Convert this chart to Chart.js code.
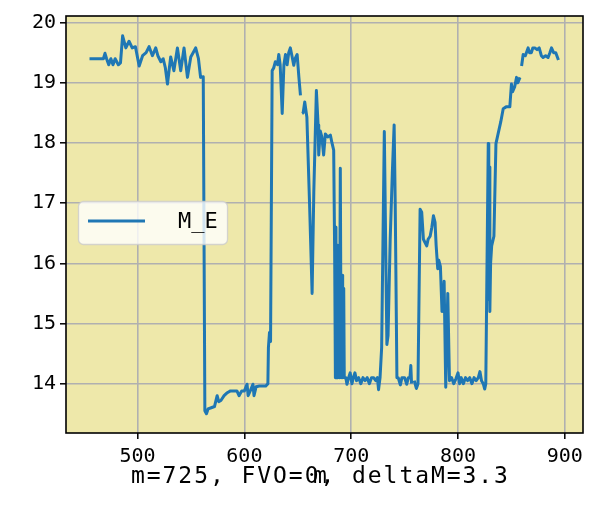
<!DOCTYPE html>
<html>
<head>
<meta charset="utf-8">
<script src="https://cdn.jsdelivr.net/npm/chart.js@4.4.0/dist/chart.umd.min.js"></script>
<style>
  html, body { margin: 0; padding: 0; background: #fff; }
</style>
</head>
<body>
<canvas id="chart" width="594" height="514"></canvas>
<script>
// values (null = gap in the line)
const mVals = [
  455, 468, 469.5, 471, 473, 475, 477, 479, 482, 484,
  486, 489, 492, 495, 498, 501.5, 504.7, 508, 510.8, 513.9,
  517, 519, 521.8, 524, 526, 528, 531, 534, 537.3, 540.4,
  543.5, 546.7, 549.8, 552, 554.4, 557, 559, 561.5,
  563, 564.5, 566, 569, 572, 574.5, 576, 578, 581, 584,
  587, 590, 593, 595, 597.5, 600, 602.5, 603.5, 606, 608,
  609, 611, 614, 617, 620, 622,
  622.5, 623.5, 624.5, 626, 627.5, 629, 631, 632.2, 633.5, 635.4,
  637, 638.5, 640, 641.5, 643, 644.5, 646.2, 647.5, 649.4, 651,
  652.5, 653.2, 654, 655, 656.5, 658.5, 661, 663.4, 665, 667.4,
  669, 669.6, 671, 672.5, 674.2, 675.8, 678, 680.5, 682, 683.6,
  684.5, 685.2, 685.7, 686.2, 687, 687.5, 688, 688.5, 689, 689.8,
  690.6, 691.4, 691.8, 692.2, 693, 693.5, 694, 695, 696, 697.6,
  699, 700.7, 702, 703.5, 705, 707, 709, 711, 713, 715,
  717, 719, 721, 723, 724.5, 725.6, 727, 728.5, 731, 733.4,
  734.5, 736.5, 738.5, 740.2, 741.2, 742.8, 744, 746, 747.5, 750,
  752, 753.5, 755, 755.8, 756.5, 757.5, 759, 761, 762.5, 764.5,
  766, 767.6, 769, 770.7, 772, 773.9, 775.5, 777, 778.5, 779.5,
  781, 782, 783.5, 785, 786, 787, 788.5, 790.4, 792, 794,
  796, 798, 800, 801.5, 803, 805, 807, 809, 811, 813,
  815, 817, 819, 820.5, 822, 823.6, 825, 826, 828.3, 828.8,
  829.2, 829.8, 830.5, 831.5, 833.6, 835.5, 837.6, 840, 842.3, 845,
  848.5, 850, 851, 853, 854.8, 856, 858, 858.8, 859.5, 861,
  863, 865.6, 867, 868.7, 870, 871.9, 874, 876, 878, 879.6,
  882, 884.3, 886, 887.5, 889.5, 891.5, 894
];
const meVals = [
  19.4, 19.4, 19.49, 19.4, 19.3, 19.4, 19.3, 19.4, 19.3, 19.33,
  19.78, 19.58, 19.69, 19.58, 19.6, 19.28, 19.45, 19.5, 19.6, 19.45,
  19.58, 19.45, 19.35, 19.4, 19.25, 18.98, 19.43, 19.2, 19.58, 19.2,
  19.58, 19.09, 19.43, 19.5, 19.58, 19.4, 19.09, 19.1,
  13.55, 13.5, 13.58, 13.6, 13.62, 13.8, 13.7, 13.72, 13.8, 13.85,
  13.88, 13.88, 13.88, 13.8, 13.88, 13.88, 13.99, 13.8, 13.9, 13.99,
  13.8, 13.95, 13.96, 13.96, 13.96, 14.0,
  14.6, 14.85, 14.7, 19.2, 19.25, 19.35, 19.3, 19.47, 19.3, 18.49,
  19.3, 19.47, 19.3, 19.5, 19.58, 19.45, 19.29, 19.4, 19.47, 19.1,
  18.79, null, 18.49, 18.5, 18.68, 18.43, 17.0, 15.5, 17.2, 18.87,
  18.3, 17.8, 18.2, 18.1, 17.8, 18.15, 18.1, 18.13, 18.0, 17.88,
  16.2, 14.1, 16.6, 14.1, 16.3, 14.1, 16.0, 14.2, 14.1, 17.58,
  14.1, 15.8, 14.1, 15.6, 15.58, 14.1, 14.1, 14.1, 13.99, 14.1,
  14.18, 14.0, 14.1, 14.18, 14.05, 14.1, 14.0, 14.1, 14.05, 14.1,
  14.0, 14.1, 14.1, 14.05, 14.1, 13.9, 14.1, 14.6, 18.19, 14.65,
  14.8, 16.4, 17.5, 18.3, 17.0, 14.1, 14.1, 13.98, 14.1, 14.1,
  13.99, 14.1, 14.1, 14.3, 14.0, null, 14.05, 13.92, 14.0, 16.9,
  16.85, 16.4, 16.35, 16.29, 16.4, 16.45, 16.6, 16.79, 16.68, 16.3,
  15.91, 16.05, 15.95, 15.2, 15.3, 15.7, 13.94, 15.5, 14.05, 14.1,
  14.0, 14.08, 14.18, 14.0, 14.1, 14.0, 14.1, 14.05, 14.1, 14.0,
  14.1, 14.05, 14.1, 14.2, 14.05, 14.0, 13.91, 14.0, 17.99, 15.4,
  17.6, 15.2, 16.0, 16.29, 16.45, 17.99, 18.16, 18.35, 18.57, 18.6,
  18.6, 18.98, 18.85, 18.93, 19.09, 19.0, 19.09, null, 19.28, 19.47,
  19.45, 19.58, 19.5, 19.5, 19.58, 19.58, 19.55, 19.58, 19.45, 19.42,
  19.45, 19.42, 19.5, 19.58, 19.5, 19.5, 19.38
];
const xTicks = [500, 600, 700, 800, 900];
const yTicks = [14, 15, 16, 17, 18, 19, 20];
const seriesLabel = "M_E";
const axisLabel = "m";
const bottomText = "m=725, FVO=0, deltaM=3.3";

const LINE_COLOR = "#1f77b4";
const FONT = '"DejaVu Sans Mono"';

const points = mVals.map((m, i) => ({ x: m, y: meVals[i] }));

// khaki plot background + black frame
const framePlugin = {
  id: "frame",
  beforeDraw(chart) {
    const { ctx, chartArea: a } = chart;
    ctx.save();
    ctx.fillStyle = "#fff";
    ctx.fillRect(0, 0, chart.width, chart.height);
    ctx.fillStyle = "#eee8aa";
    ctx.fillRect(a.left, a.top, a.right - a.left, a.bottom - a.top);
    ctx.restore();
  },
  afterDatasetsDraw(chart) {
    const { ctx, chartArea: a } = chart;
    ctx.save();
    ctx.strokeStyle = "#000";
    ctx.lineWidth = 1.6;
    ctx.strokeRect(a.left, a.top, a.right - a.left, a.bottom - a.top);
    ctx.restore();
  },
};

// legend box drawn inside the axes, plus the bottom texts
const textPlugin = {
  id: "texts",
  afterDraw(chart) {
    const ctx = chart.ctx;
    ctx.save();
    // legend
    ctx.beginPath();
    ctx.roundRect(78.5, 201.5, 149, 43, 5);
    ctx.fillStyle = "rgba(255,255,255,0.8)";
    ctx.fill();
    ctx.strokeStyle = "rgba(204,204,204,0.8)";
    ctx.lineWidth = 1.3;
    ctx.stroke();
    ctx.beginPath();
    ctx.moveTo(88, 221);
    ctx.lineTo(145, 221);
    ctx.strokeStyle = LINE_COLOR;
    ctx.lineWidth = 3;
    ctx.stroke();
    ctx.fillStyle = "#000";
    ctx.font = "22px " + FONT;
    ctx.textBaseline = "middle";
    ctx.textAlign = "left";
    ctx.fillText(seriesLabel, 178, 222);

    // bottom line of text and the overlapping axis label
    ctx.font = "23px " + FONT;
    ctx.textBaseline = "alphabetic";
    const w0 = ctx.measureText(bottomText).width;
    ctx.letterSpacing = ((377 - w0) / (bottomText.length - 1)).toFixed(2) + "px";
    ctx.fillText(bottomText, 131, 483);
    ctx.letterSpacing = "0px";
    ctx.textAlign = "center";
    ctx.fillText(axisLabel, 320, 483);
    ctx.restore();
  },
};

const gridOpts = {
  color: "#b0b0b0",
  lineWidth: 1.6,
  tickColor: "#000",
  tickLength: 6,
  tickWidth: 1.5,
};

new Chart(document.getElementById("chart"), {
  type: "line",
  data: {
    datasets: [
      {
        label: seriesLabel,
        data: points,
        borderColor: LINE_COLOR,
        borderWidth: 3,
        pointRadius: 0,
        tension: 0,
        spanGaps: false,
        borderJoinStyle: "round",
        borderCapStyle: "butt",
      },
    ],
  },
  options: {
    responsive: false,
    animation: false,
    layout: { padding: { top: 12, right: 11, left: 0, bottom: 0 } },
    plugins: { legend: { display: false }, tooltip: { enabled: false } },
    scales: {
      x: {
        type: "linear",
        min: 433,
        max: 917,
        afterBuildTicks: (s) => { s.ticks = xTicks.map((v) => ({ value: v })); },
        afterFit: (s) => { s.height = 81; },
        ticks: { color: "#000", font: { family: FONT, size: 20 }, padding: 6, maxRotation: 0 },
        grid: gridOpts,
        border: { display: false },
      },
      y: {
        min: 13.18,
        max: 20.11,
        afterBuildTicks: (s) => { s.ticks = yTicks.map((v) => ({ value: v })); },
        afterFit: (s) => { s.width = 66; },
        ticks: { color: "#000", font: { family: FONT, size: 20 }, padding: 4 },
        grid: gridOpts,
        border: { display: false },
      },
    },
  },
  plugins: [framePlugin, textPlugin],
});
</script>
</body>
</html>
